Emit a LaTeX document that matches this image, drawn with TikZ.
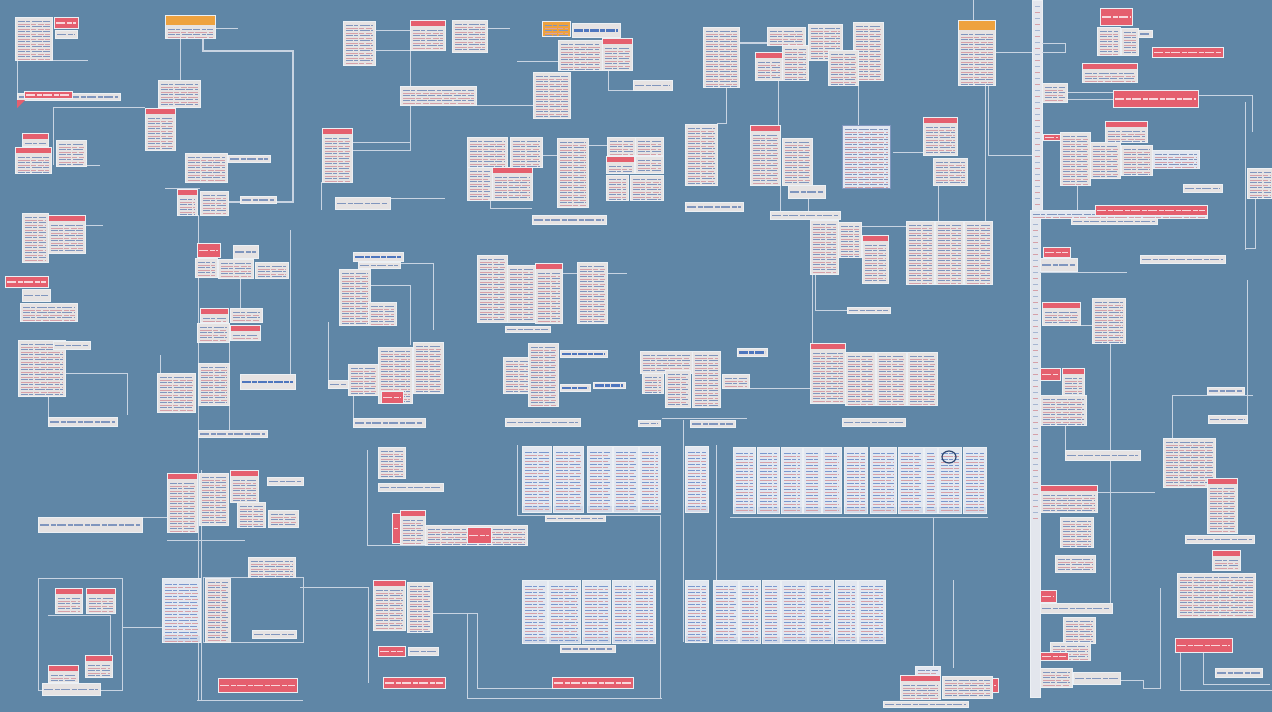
\documentclass[tikz,border=0pt]{standalone}
\usetikzlibrary{positioning}
\definecolor{bgc}{RGB}{95,134,166}
\definecolor{paper}{RGB}{230,227,227}
\definecolor{edgec}{RGB}{236,240,244}
\definecolor{inkc}{RGB}{128,150,190}
\definecolor{pinkc}{RGB}{214,160,168}
\definecolor{redc}{RGB}{229,95,110}
\definecolor{orangec}{RGB}{238,162,62}
\definecolor{sheetc}{RGB}{226,231,240}
\definecolor{bluec}{RGB}{78,118,190}
\definecolor{wirec}{RGB}{200,212,226}
% rows of fake text inside a card
\newcommand\txtrows[3]{%
  \foreach \k in {0,...,24}{%
    \draw[#1,line width=.7pt,dash pattern=on 7pt off 1.5pt on 4pt off 1.5pt on 10pt off 1.5pt]
      ([xshift=2.5pt,yshift=-#2pt-\k*#3pt]path picture bounding box.north west) --
      ([xshift=-2.5pt,yshift=-#2pt-\k*#3pt]path picture bounding box.north east);
    \draw[pinkc,line width=.6pt,dash pattern=on 12pt off 1.5pt on 5pt off 1.5pt on 6pt off 1.5pt]
      ([xshift=2.5pt,yshift=-#2pt-\k*#3pt-.5*#3pt]path picture bounding box.north west) --
      ([xshift=-2.5pt,yshift=-#2pt-\k*#3pt-.5*#3pt]path picture bounding box.north east);}}
\tikzset{
  sz/.style 2 args={minimum width=#1pt,minimum height=#2pt},
  doc/.style={draw=edgec,fill=paper,line width=.7pt,inner sep=0pt,anchor=north west,
    path picture={\txtrows{inkc}{4}{5}}},
  hdoc/.style={doc,path picture={
    \fill[redc] (path picture bounding box.north west) rectangle ([yshift=-6pt]path picture bounding box.north east);
    \txtrows{inkc}{10}{5}}},
  odoc/.style={doc,path picture={
    \fill[orangec] (path picture bounding box.north west) rectangle ([yshift=-10pt]path picture bounding box.north east);
    \txtrows{inkc}{14}{5}}},
  sheet/.style={doc,fill=sheetc,path picture={
    \fill[inkc!35] ([yshift=6pt]path picture bounding box.south west) rectangle (path picture bounding box.south east);
    \txtrows{bluec!75}{6}{6}}},
  tag/.style={doc,path picture={
    \draw[inkc,line width=1.3pt,dash pattern=on 9pt off 1.5pt on 5pt off 1.5pt]
      ([xshift=2pt]path picture bounding box.west) -- ([xshift=-2pt]path picture bounding box.east);}},
  redtag/.style={doc,fill=redc,path picture={
    \draw[white!75!redc,line width=1.3pt,dash pattern=on 9pt off 1.5pt on 5pt off 1.5pt]
      ([xshift=2pt]path picture bounding box.west) -- ([xshift=-2pt]path picture bounding box.east);}},
  bluetag/.style={doc,path picture={
    \draw[bluec,line width=2.4pt,dash pattern=on 9pt off 1pt on 5pt off 1pt]
      ([xshift=2pt]path picture bounding box.west) -- ([xshift=-2pt]path picture bounding box.east);}},
  ruler/.style={doc,fill=sheetc!80!paper,path picture={\txtrows{inkc!70}{6}{12}}},
  wire/.style={draw=wirec,line width=.8pt},
}
\begin{document}
\begin{tikzpicture}[x=1pt,y=-1pt]
\fill[bgc] (0,0) rectangle (1272,712);
\useasboundingbox (0,0) rectangle (1272,712);

% top left
\draw[wire] (17,60) -- (17,93);
\draw[wire] (52,60) -- (88,60);
\draw[wire] (53,165) -- (53,107) -- (145,107);
\draw[wire] (86,165) -- (100,165);
\draw[wire] (180,38) -- (180,80);
\draw[wire,line width=1.3pt] (203,38) |- (293,51) -- (293,202) -- (228,202);
\draw[wire] (215,28) -- (238,28);
\draw[wire] (165,188) -- (200,188);
\draw[wire] (198,215) -- (198,700);
\draw[wire] (201,470) -- (201,700);
\node[doc,sz={37}{43}] (tl1) at (15,17) {};
\node[redtag,sz={24}{11}] (tl2) at (54,17) {};
\node[tag,sz={22}{8}] (tl3) at (55,30) {};
\node[tag,sz={103}{7}] (tl4) at (17,93) {};
\node[redtag,sz={48}{7}] (tl5) at (24,91) {};
\fill[redc] (17,100) -- (25,100) -- (17,108) -- cycle;
\node[hdoc,sz={26}{13}] (tl6) at (22,133) {};
\node[hdoc,sz={36}{26}] (tl7) at (15,147) {};
\node[doc,sz={30}{26}] (tl8) at (56,140) {};
\node[hdoc,sz={30}{42}] (tl9) at (145,108) {};
\node[doc,sz={42}{27}] (tl10) at (158,80) {};
\node[odoc,sz={50}{23}] (tl11) at (165,15) {};
\node[doc,sz={42}{29}] (tl12) at (185,153) {};
\node[tag,sz={42}{7}] (tl13) at (228,155) {};
\node[hdoc,sz={20}{26}] (tl14) at (177,189) {};
\node[doc,sz={28}{24}] (tl15) at (200,191) {};
\node[tag,sz={36}{7}] (tl16) at (240,196) {};

% left middle
\draw[wire] (86,225) -- (103,225);
\draw[wire] (65,373) -- (127,373) -- (127,415);
\draw[wire] (48,396) -- (48,426) -- (117,426);
\draw[wire] (160,355) -- (160,373);
\draw[wire] (229,330) -- (229,430);
\draw[wire] (290,230) -- (290,374);
\draw[wire] (240,278) -- (240,308);
\node[doc,sz={26}{49}] (lm1) at (22,213) {};
\node[hdoc,sz={37}{38}] (lm2) at (48,215) {};
\node[redtag,sz={43}{11}] (lm3) at (5,276) {};
\node[tag,sz={28}{12}] (lm4) at (22,289) {};
\node[doc,sz={57}{18}] (lm5) at (20,303) {};
\node[doc,sz={47}{56}] (lm6) at (18,340) {};
\node[tag,sz={37}{8}] (lm7) at (53,341) {};
\node[tag,sz={69}{9}] (lm8) at (48,417) {};
\node[doc,sz={38}{39}] (lm9) at (157,373) {};
\node[doc,sz={31}{42}] (lm10) at (198,363) {};
\node[bluetag,sz={55}{15}] (lm11) at (240,374) {};
\node[tag,sz={69}{7}] (lm12) at (198,430) {};
\node[redtag,sz={23}{14}] (lm13) at (197,243) {};
\node[tag,sz={25}{13}] (lm14) at (233,245) {};
\node[doc,sz={22}{19}] (lm15) at (195,258) {};
\node[doc,sz={35}{19}] (lm16) at (218,259) {};
\node[doc,sz={33}{16}] (lm17) at (255,262) {};
\node[hdoc,sz={28}{14}] (lm18) at (200,308) {};
\node[doc,sz={32}{14}] (lm19) at (230,308) {};
\node[doc,sz={32}{19}] (lm20) at (197,323) {};
\node[hdoc,sz={30}{15}] (lm21) at (230,325) {};

% bottom left
\draw[wire] (142,517) -- (167,517);
\draw[wire] (167,540) -- (245,540);
\draw[wire] (38,578) rectangle (122,690);
\draw[wire] (48,615) -- (110,615) -- (110,655);
\draw[wire] (122,627) -- (162,627);
\draw[wire] (203,577) rectangle (303,642);
\draw[wire] (197,700) -- (303,700);
\node[tag,sz={104}{15}] (bl1) at (38,517) {};
\node[hdoc,sz={30}{59}] (bl2) at (167,473) {};
\node[doc,sz={29}{52}] (bl3) at (199,473) {};
\node[hdoc,sz={28}{32}] (bl4) at (230,470) {};
\node[doc,sz={28}{25}] (bl5) at (237,502) {};
\node[doc,sz={30}{17}] (bl6) at (268,510) {};
\node[tag,sz={36}{8}] (bl7) at (267,477) {};
\node[hdoc,sz={27}{25}] (bl8) at (55,588) {};
\node[hdoc,sz={29}{25}] (bl9) at (86,588) {};
\node[hdoc,sz={30}{17}] (bl10) at (48,665) {};
\node[hdoc,sz={27}{22}] (bl11) at (85,655) {};
\node[tag,sz={58}{12}] (bl12) at (42,683) {};
\node[sheet,sz={38}{64}] (bl13) at (162,578) {};
\node[doc,sz={25}{64}] (bl14) at (205,578) {};
\node[doc,sz={47}{20}] (bl15) at (248,557) {};
\node[tag,sz={44}{8}] (bl16) at (252,630) {};
\node[redtag,sz={79}{14}] (bl17) at (218,678) {};

% top middle
\draw[wire] (375,30) -- (410,30);
\draw[wire] (375,50) -- (410,50) -- (410,150) -- (352,150);
\draw[wire] (352,142) -- (410,142);
\draw[wire] (487,28) -- (510,28);
\draw[wire] (476,105) -- (535,105);
\draw[wire] (390,198) -- (445,198);
\draw[wire] (321,182) -- (321,210);
\draw[wire] (517,61) -- (558,61);
\draw[wire] (608,70) |- (633,90);
\draw[wire] (739,43) -- (767,43);
\draw[wire] (726,87) -- (726,123) -- (717,123);
\draw[wire] (542,155) -- (557,155);
\draw[wire] (588,145) -- (635,145);
\draw[wire] (490,200) -- (490,208) -- (532,208);
\node[doc,sz={32}{44}] (tm1) at (343,21) {};
\node[hdoc,sz={35}{30}] (tm2) at (410,20) {};
\node[doc,sz={35}{32}] (tm3) at (452,20) {};
\node[doc,sz={76}{19}] (tm4) at (400,86) {};
\node[hdoc,sz={30}{54}] (tm5) at (322,128) {};
\node[tag,sz={55}{12}] (tm6) at (335,197) {};
\node[doc,sz={37}{46}] (tm7) at (533,72) {};
\node[doc,fill=orangec,sz={28}{15}] (tm8) at (542,21) {};
\node[bluetag,sz={48}{14}] (tm9) at (572,23) {};
\node[doc,sz={44}{30}] (tm10) at (558,40) {};
\node[hdoc,sz={30}{32}] (tm11) at (602,38) {};
\node[tag,sz={39}{10}] (tm12) at (633,80) {};
\node[doc,sz={36}{60}] (tm13) at (703,27) {};
\node[doc,sz={32}{61}] (tm14) at (685,124) {};
\node[tag,sz={58}{9}] (tm15) at (685,202) {};
\node[doc,sz={40}{30}] (tm16) at (467,137) {};
\node[doc,sz={32}{30}] (tm17) at (510,137) {};
\node[doc,sz={25}{33}] (tm19) at (467,167) {};
\node[hdoc,sz={40}{33}] (tm18) at (492,167) {};
\node[doc,sz={31}{69}] (tm20) at (557,138) {};
\node[doc,sz={28}{18}] (tm21) at (607,137) {};
\node[doc,sz={28}{18}] (tm22) at (635,137) {};
\node[hdoc,sz={28}{17}] (tm23) at (606,156) {};
\node[doc,sz={28}{17}] (tm24) at (635,156) {};
\node[doc,sz={22}{25}] (tm25) at (606,175) {};
\node[doc,sz={33}{25}] (tm26) at (630,175) {};
\node[tag,sz={74}{9}] (tm27) at (532,215) {};

% top right
\draw[wire] (740,42) -- (767,42);
\draw[wire] (995,52) -- (1032,52);
\draw[wire] (988,85) |- (1032,155);
\draw[wire] (973,0) -- (973,20);
\draw[wire] (778,80) -- (778,125);
\draw[wire] (858,85) -- (858,125);
\draw[wire] (893,152) -- (923,152);
\draw[wire] (780,185) -- (780,211);
\draw[wire] (808,198) -- (808,211);
\draw[wire] (862,226) -- (906,226);
\draw[wire] (938,185) -- (938,221);
\draw[wire] (985,85) -- (985,221);
\draw[wire] (815,274) |- (847,310);
\draw[wire] (812,274) -- (812,343);
\draw[wire] (740,388) -- (810,388);
\node[doc,sz={38}{18}] (tr1) at (767,27) {};
\node[doc,sz={34}{36}] (tr2) at (808,24) {};
\node[doc,sz={30}{58}] (tr3) at (853,22) {};
\node[hdoc,sz={27}{28}] (tr4) at (755,52) {};
\node[doc,sz={26}{35}] (tr5) at (782,45) {};
\node[doc,sz={30}{35}] (tr6) at (828,50) {};
\node[odoc,sz={37}{65}] (tr7) at (958,20) {};
\node[hdoc,sz={30}{60}] (tr8) at (750,125) {};
\node[doc,sz={30}{47}] (tr9) at (782,138) {};
\node[tag,sz={37}{13}] (tr10) at (788,185) {};
\node[doc,draw=inkc,fill=sheetc,sz={48}{63}] (tr11) at (842,125) {};
\node[hdoc,sz={34}{38}] (tr12) at (923,117) {};
\node[doc,sz={34}{27}] (tr13) at (933,158) {};
\node[tag,sz={70}{8}] (tr14) at (770,211) {};
\node[doc,sz={28}{54}] (tr15) at (810,220) {};
\node[doc,sz={23}{35}] (tr16) at (838,222) {};
\node[hdoc,sz={26}{48}] (tr17) at (862,235) {};
\node[doc,sz={28}{63}] (tr18) at (906,221) {};
\node[doc,sz={28}{63}] (tr19) at (935,221) {};
\node[doc,sz={28}{63}] (tr20) at (964,221) {};
\node[tag,sz={43}{6}] (tr21) at (847,307) {};
\node[hdoc,sz={35}{60}] (tr22) at (810,343) {};
\node[doc,sz={30}{53}] (tr23) at (845,352) {};
\node[doc,sz={30}{53}] (tr24) at (876,352) {};
\node[doc,sz={30}{53}] (tr25) at (907,352) {};
\node[tag,sz={63}{8}] (tr26) at (842,418) {};

% middle
\draw[wire] (400,263) -| (433,330);
\draw[wire] (370,285) -| (410,345);
\draw[wire] (328,322) -- (328,380);
\draw[wire] (353,395) -- (353,418);
\draw[wire] (562,273) -- (627,273);
\draw[wire] (662,418) -- (747,418);
\node[bluetag,sz={50}{9}] (mm1) at (353,252) {};
\node[tag,sz={42}{6}] (mm2) at (358,262) {};
\node[doc,sz={31}{56}] (mm3) at (339,269) {};
\node[doc,sz={28}{23}] (mm4) at (368,302) {};
\node[doc,sz={34}{56}] (mm5) at (378,347) {};
\node[doc,sz={30}{51}] (mm6) at (413,342) {};
\node[doc,sz={30}{31}] (mm7) at (348,364) {};
\node[redtag,sz={22}{12}] (mm8) at (381,391) {};
\node[tag,sz={20}{8}] (mm9) at (328,380) {};
\node[tag,sz={72}{9}] (mm10) at (353,418) {};
\node[doc,sz={30}{67}] (mm11) at (477,255) {};
\node[doc,sz={28}{57}] (mm12) at (507,265) {};
\node[hdoc,sz={27}{60}] (mm13) at (535,263) {};
\node[doc,sz={30}{61}] (mm14) at (577,262) {};
\node[tag,sz={45}{6}] (mm15) at (505,326) {};
\node[doc,sz={28}{36}] (mm16) at (503,357) {};
\node[doc,sz={30}{63}] (mm17) at (528,343) {};
\node[bluetag,sz={47}{7}] (mm18) at (560,350) {};
\node[bluetag,sz={30}{7}] (mm19) at (560,384) {};
\node[bluetag,sz={32}{6}] (mm20) at (593,382) {};
\node[tag,sz={75}{8}] (mm21) at (505,418) {};
\node[doc,sz={52}{22}] (mm22) at (640,351) {};
\node[doc,sz={21}{20}] (mm23) at (642,373) {};
\node[doc,sz={25}{37}] (mm24) at (665,370) {};
\node[doc,sz={28}{56}] (mm25) at (692,351) {};
\node[bluetag,sz={30}{8}] (mm26) at (737,348) {};
\node[doc,sz={27}{14}] (mm27) at (722,374) {};
\node[tag,sz={22}{6}] (mm28) at (638,420) {};
\node[tag,sz={45}{7}] (mm29) at (690,420) {};

% bottom middle
\draw[wire] (367,450) -- (367,545) -- (527,545);
\draw[wire] (432,613) -- (467,613) -- (467,698) -- (662,698);
\draw[wire] (467,613) -- (477,613) -- (477,688) -- (552,688);
\draw[wire] (300,587) -| (368,683);
\draw[wire] (517,445) -- (517,515) -- (660,515) -- (660,698);
\draw[wire] (683,420) -- (683,642);
\draw[wire] (716,445) -- (716,580);
\draw[wire] (730,517) -- (988,517);
\draw[wire] (933,517) -- (933,668);
\draw[wire] (953,580) -- (953,668);
\node[doc,sz={27}{31}] (bm1) at (378,447) {};
\node[tag,sz={65}{8}] (bm2) at (378,483) {};
\node[redtag,sz={8}{30}] (bm3) at (392,513) {};
\node[hdoc,sz={25}{34}] (bm4) at (400,510) {};
\node[doc,sz={102}{20}] (bm5) at (425,525) {};
\node[redtag,sz={24}{16}] (bm6) at (467,527) {};
\node[tag,sz={60}{6}] (bm7) at (545,515) {};
\node[hdoc,sz={32}{50}] (bm8) at (373,580) {};
\node[doc,sz={25}{50}] (bm9) at (407,582) {};
\node[redtag,sz={27}{10}] (bm10) at (378,646) {};
\node[tag,sz={30}{8}] (bm11) at (408,647) {};
\node[redtag,sz={62}{11}] (bm12) at (383,677) {};
\node[redtag,sz={81}{11}] (bm13) at (552,677) {};
\node[tag,sz={55}{7}] (bm14) at (560,645) {};
\foreach \x/\w [count=\i] in {522/29,553/30,587/25,613/25,639/21}
  \node[sheet,sz={\w}{66}] (sa\i) at (\x,446) {};
\node[sheet,sz={23}{66}] (sb) at (685,446) {};
\foreach \x/\w [count=\i] in {733/22,757/22,781/21,803/18,822/19,844/23,870/26,898/25,924/13,938/23,963/23}
  \node[sheet,sz={\w}{66}] (sc\i) at (\x,447) {};
\draw[bluec!60!black,line width=1.2pt] (949,457) ellipse (7 and 6);
\foreach \x/\w [count=\i] in {522/25,548/32,582/28,612/21,633/22}
  \node[sheet,sz={\w}{63}] (sd\i) at (\x,580) {};
\node[sheet,sz={23}{62}] (se) at (685,580) {};
\foreach \x/\w [count=\i] in {713/25,739/21,762/18,781/26,808/25,835/22,858/27}
  \node[sheet,sz={\w}{63}] (sf\i) at (\x,580) {};

% bottom right cluster
\node[doc,fill=sheetc,sz={25}{11}] (br1) at (915,666) {};
\node[hdoc,sz={40}{24}] (br2) at (900,675) {};
\node[doc,sz={50}{22}] (br3) at (942,676) {};
\node[redtag,sz={6}{14}] (br4) at (992,678) {};
\node[tag,sz={85}{6}] (br5) at (883,701) {};

% right side
\node[ruler,sz={10}{210}] (rul1) at (1032,0) {};
\node[ruler,sz={10}{479}] (rul2) at (1030,218) {};
\node[doc,fill=sheetc,sz={177}{8}] (rbar) at (1030,210) {};
\draw[wire] (1042,43) -| (1065,52) -- (1042,52);
\draw[wire] (1067,92) -- (1113,92);
\draw[wire] (1067,99) -- (1113,99);
\draw[wire] (1198,95) -- (1252,95) -- (1252,132);
\draw[wire] (1245,102) -- (1245,250);
\draw[wire] (1077,185) -- (1077,210);
\draw[wire] (1255,198) -- (1255,248) -- (1245,248);
\draw[wire] (1040,272) -- (1127,272);
\draw[wire] (1110,343) -- (1110,610);
\draw[wire] (1080,325) -- (1092,325);
\draw[wire] (1065,425) -- (1065,450);
\draw[wire] (1097,492) -- (1155,492);
\draw[wire] (1120,680) -- (1143,680) -- (1143,688) -- (1160,688) -- (1160,588);
\draw[wire] (1172,438) -- (1172,395) -- (1253,395);
\draw[wire] (1247,280) -- (1247,420);
\draw[wire] (1180,652) -- (1180,690) -- (1272,690);
\draw[wire] (1203,652) -- (1203,684) -- (1270,684);
\node[redtag,sz={32}{17}] (r1) at (1100,8) {};
\node[doc,sz={23}{28}] (r2) at (1097,27) {};
\node[doc,sz={17}{27}] (r3) at (1121,28) {};
\node[tag,sz={14}{7}] (r4) at (1138,30) {};
\node[redtag,sz={71}{10}] (r5) at (1152,47) {};
\node[hdoc,sz={55}{19}] (r6) at (1082,63) {};
\node[doc,sz={25}{19}] (r7) at (1042,83) {};
\node[redtag,sz={85}{17}] (r8) at (1113,90) {};
\node[doc,sz={30}{53}] (r9) at (1060,132) {};
\node[hdoc,sz={42}{21}] (r10) at (1105,121) {};
\node[doc,sz={30}{36}] (r11) at (1090,142) {};
\node[doc,sz={31}{30}] (r12) at (1121,145) {};
\node[doc,fill=sheetc,sz={47}{18}] (r13) at (1152,150) {};
\node[redtag,sz={17}{6}] (r14) at (1043,134) {};
\node[tag,sz={39}{8}] (r15) at (1183,184) {};
\node[redtag,sz={112}{10}] (r16) at (1095,205) {};
\node[tag,sz={86}{6}] (r17) at (1071,218) {};
\node[doc,sz={26}{30}] (r18) at (1247,168) {};
\node[redtag,sz={27}{10}] (r19) at (1043,247) {};
\node[tag,sz={37}{13}] (r20) at (1040,258) {};
\node[tag,sz={85}{8}] (r21) at (1140,255) {};
\node[hdoc,sz={38}{23}] (r22) at (1042,302) {};
\node[doc,sz={33}{45}] (r23) at (1092,298) {};
\node[redtag,sz={20}{12}] (r24) at (1040,368) {};
\node[hdoc,sz={22}{27}] (r25) at (1062,368) {};
\node[doc,sz={46}{30}] (r26) at (1040,395) {};
\node[tag,sz={75}{10}] (r27) at (1065,450) {};
\node[hdoc,sz={57}{27}] (r28) at (1040,485) {};
\node[doc,sz={33}{30}] (r29) at (1060,517) {};
\node[doc,sz={40}{17}] (r30) at (1055,555) {};
\node[redtag,sz={16}{12}] (r31) at (1040,590) {};
\node[tag,sz={72}{10}] (r32) at (1040,603) {};
\node[doc,sz={32}{26}] (r33) at (1063,617) {};
\node[doc,sz={40}{18}] (r34) at (1050,642) {};
\node[redtag,sz={28}{8}] (r35) at (1040,652) {};
\node[doc,sz={32}{19}] (r36) at (1040,668) {};
\node[tag,sz={47}{12}] (r37) at (1073,672) {};
\node[doc,sz={52}{49}] (r38) at (1163,438) {};
\node[hdoc,sz={30}{55}] (r39) at (1207,478) {};
\node[tag,sz={69}{8}] (r40) at (1185,535) {};
\node[tag,sz={37}{7}] (r41) at (1207,387) {};
\node[tag,sz={39}{8}] (r42) at (1208,415) {};
\node[hdoc,sz={28}{20}] (r43) at (1212,550) {};
\node[doc,sz={78}{44}] (r44) at (1177,573) {};
\node[redtag,sz={57}{14}] (r45) at (1175,638) {};
\node[tag,sz={47}{9}] (r46) at (1215,668) {};
\end{tikzpicture}
\end{document}
